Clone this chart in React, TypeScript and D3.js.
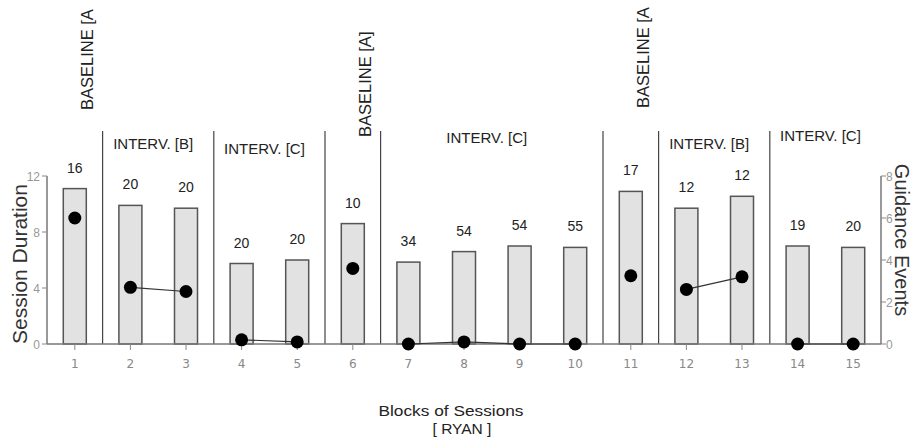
import React from "react";
import * as d3 from "d3";

const blocks = ["1","2","3","4","5","6","7","8","9","10","11","12","13","14","15"];
const sessionDuration = [11.1, 9.9, 9.7, 5.75, 6.0, 8.6, 5.85, 6.6, 7.0, 6.9, 10.9, 9.7, 10.55, 7.0, 6.9];
const guidanceEvents = [6.0, 2.7, 2.5, 0.2, 0.1, 3.6, 0, 0.1, 0, 0, 3.25, 2.6, 3.2, 0, 0];
const sessionCounts = [16, 20, 20, 20, 20, 10, 34, 54, 54, 55, 17, 12, 12, 19, 20];
const phaseLabels = ["BASELINE [A", "INTERV. [B]", "INTERV. [C]", "BASELINE [A]", "INTERV. [C]", "BASELINE [A", "INTERV. [B]", "INTERV. [C]"];
const phaseStart = [1, 2, 4, 6, 7, 11, 12, 14];
const phaseEnd = [1, 3, 5, 6, 10, 11, 13, 15];
const leftTicks = [0, 4, 8, 12];
const rightTicks = [0, 2, 4, 6, 8];

// layout (not data)
const W = 913, H = 444;
const X0 = 47, X1 = 881, Y0 = 344, YT = 176;
const labelBaselineY = [110, 148.5, 153.5, 137, 142.5, 108, 148.5, 140.5];

export default function App() {
  const x = d3.scalePoint<string>().domain(blocks).range([X0, X1]).padding(0.5);
  const step = x.step();
  const yL = d3.scaleLinear().domain([0, 12]).range([Y0, YT]);
  const yR = d3.scaleLinear().domain([0, 8]).range([Y0, YT]);
  const barW = 23;
  const font = "'Liberation Sans', Arial, Helvetica, sans-serif";

  const line = d3.line<number>().x((i) => x(blocks[i])!).y((i) => yR(guidanceEvents[i]));

  const boundaries = phaseStart.slice(1).map((s) => x(blocks[s - 1])! - step / 2);

  return (
    <svg width={W} height={H} style={{ position: "absolute", left: 0, top: 0, background: "#fff" }} fontFamily={font}>
      <rect x={0} y={0} width={W} height={H} fill="#fff" />
      {/* phase separators */}
      {boundaries.map((bx, i) => (
        <line key={"b" + i} x1={bx} x2={bx} y1={131} y2={Y0} stroke="#444" strokeWidth={1.2} />
      ))}
      {/* bars */}
      {sessionDuration.map((v, i) => (
        <rect key={"r" + i} x={x(blocks[i])! - barW / 2} y={yL(v)} width={barW} height={Y0 - yL(v)}
          fill="#e2e2e2" stroke="#555" strokeWidth={1.5} />
      ))}
      {/* count labels */}
      {sessionCounts.map((c, i) => (
        <text key={"c" + i} x={x(blocks[i])!} y={yL(sessionDuration[i]) - 16} textAnchor="middle"
          fontSize={14} fill="#222">{c}</text>
      ))}
      {/* axes */}
      <line x1={X0} x2={X1} y1={Y0} y2={Y0} stroke="#777" strokeWidth={1.5} />
      <line x1={X0} x2={X0} y1={YT} y2={Y0} stroke="#777" strokeWidth={1.5} />
      <line x1={X1} x2={X1} y1={YT} y2={Y0} stroke="#777" strokeWidth={1.5} />
      {leftTicks.map((t) => (
        <g key={"lt" + t}>
          <line x1={X0 - 5} x2={X0} y1={yL(t)} y2={yL(t)} stroke="#888" />
          <text x={X0 - 7} y={yL(t) + 4.5} textAnchor="end" fontSize={12} fill="#999">{t}</text>
        </g>
      ))}
      {rightTicks.map((t) => (
        <g key={"rt" + t}>
          <line x1={X1} x2={X1 + 5} y1={yR(t)} y2={yR(t)} stroke="#888" />
          <text x={X1 + 5} y={yR(t) + 4.5} textAnchor="start" fontSize={12} fill="#999">{t}</text>
        </g>
      ))}
      {blocks.map((b) => (
        <g key={"xt" + b}>
          <line x1={x(b)!} x2={x(b)!} y1={Y0} y2={Y0 + 6} stroke="#888" />
          <text x={x(b)!} y={368} textAnchor="middle" fontSize={12} fill="#888" fontFamily="'DejaVu Sans', sans-serif">{b}</text>
        </g>
      ))}
      {/* guidance lines within phases */}
      {phaseStart.map((s, p) => {
        const idx = d3.range(s - 1, phaseEnd[p]);
        return idx.length > 1 ? (
          <path key={"l" + p} d={line(idx)!} fill="none" stroke="#333" strokeWidth={1.2} />
        ) : null;
      })}
      {guidanceEvents.map((v, i) => (
        <circle key={"d" + i} cx={x(blocks[i])!} cy={yR(v)} r={6.5} fill="#000" />
      ))}
      {/* phase labels */}
      {phaseLabels.map((lab, p) => {
        const vertical = phaseStart[p] === phaseEnd[p];
        if (vertical) {
          const cx = x(blocks[phaseStart[p] - 1])! + 18.5;
          const by = labelBaselineY[p];
          return (
            <text key={"p" + p} transform={`translate(${cx},${by}) rotate(-90)`} fontSize={16.5} fill="#222">{lab}</text>
          );
        }
        const cx = (x(blocks[phaseStart[p] - 1])! + x(blocks[phaseEnd[p] - 1])!) / 2 - 5;
        return (
          <text key={"p" + p} x={cx} y={labelBaselineY[p]} textAnchor="middle" fontSize={15} fill="#222">{lab}</text>
        );
      })}
      {/* axis titles */}
      <text transform={`translate(27,${(YT + Y0) / 2 + 4}) rotate(-90)`} textAnchor="middle" fontSize={21} fill="#333">Session Duration</text>
      <text transform={`translate(895,${(YT + Y0) / 2 - 20}) rotate(90)`} textAnchor="middle" fontSize={20} fill="#333">Guidance Events</text>
      <text x={451} y={416} textAnchor="middle" fontSize={15.5} fill="#222" textLength={145} lengthAdjust="spacingAndGlyphs">Blocks of Sessions</text>
      <text x={462} y={434} textAnchor="middle" fontSize={15.5} fill="#222">[ RYAN  ]</text>
    </svg>
  );
}
